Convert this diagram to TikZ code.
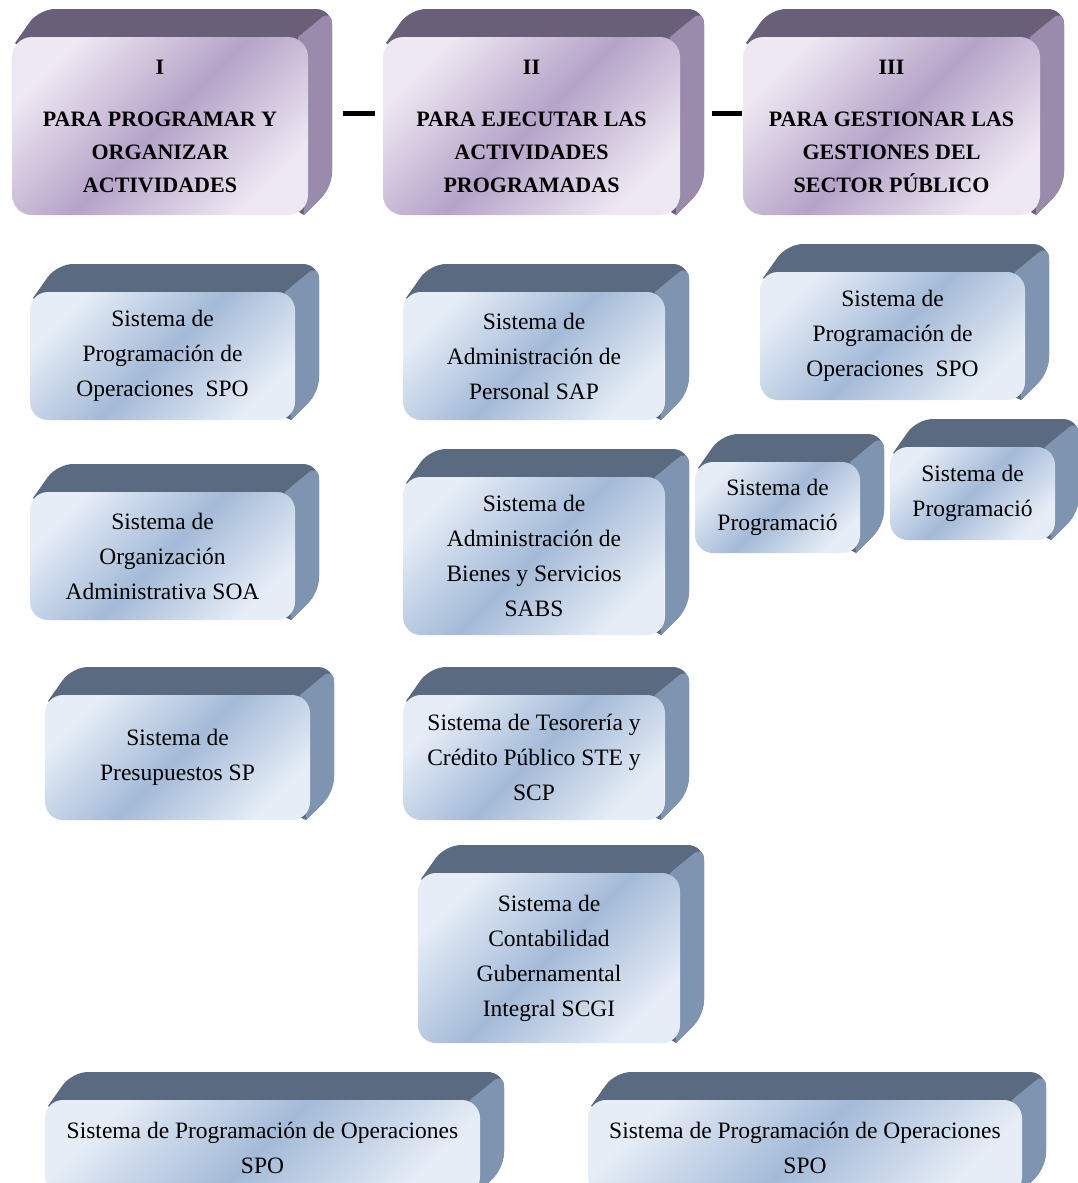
\documentclass[tikz,border=0pt]{standalone}
\usepackage{fontspec}
\setmainfont{Liberation Serif}
\definecolor{bTop}{HTML}{5A6A80}
\definecolor{bSide}{HTML}{7F94B0}
\definecolor{bLight}{HTML}{E6EDF6}
\definecolor{bMid}{HTML}{A4BAD8}
\definecolor{pTop}{HTML}{6A5F78}
\definecolor{pSide}{HTML}{9A8AAC}
\definecolor{pLight}{HTML}{EEE8F2}
\definecolor{pMid}{HTML}{B5A3C8}
\tikzset{
  bluetop/.style={fill=bTop},
  blueside/.style={fill=bSide},
  bluefront/.style={rounded corners=18pt, top color=bLight, bottom color=bLight,
    middle color=bMid, shading angle=45, inner sep=0pt, outer sep=0pt,
    align=center, font=\fontsize{23.5}{35}\selectfont},
  purptop/.style={fill=pTop},
  purpside/.style={fill=pSide},
  purpfront/.style={rounded corners=20pt, top color=pLight, bottom color=pLight,
    middle color=pMid, shading angle=45, inner sep=0pt, outer sep=0pt,
    align=center, font=\bfseries\fontsize{22}{33}\selectfont},
  dashline/.style={line width=5pt, black}
}
\newcommand\cubebox[7]{%
  \fill[#6top] (#4-4,#5) -- (#2+16,#3+16) -- (#2+3,#3+6) [rounded corners=16pt] -- (#2+27,#3-28) -- (#4+24,#3-28) -- (#4+24,#5-28) [sharp corners] -- cycle;
  \fill[#6side] (#4-10,#3) [rounded corners=14pt] -- (#4+24,#3-28) -- (#4+24,#5-28) [sharp corners] -- (#4-4,#5) -- cycle;
  \node[#6front, minimum width=#4-#2, minimum height=#5-#3] (#1) at ({(#2+#4)/2},{(#3+#5)/2}) {#7};
}
\begin{document}
\begin{tikzpicture}[x=1pt,y=-1pt]
\useasboundingbox (0,0) rectangle (1078,1183);
\clip (0,0) rectangle (1078,1183);
% headers
\cubebox{hI}{12}{37}{308}{215}{purp}{I\\[19pt]PARA PROGRAMAR Y\\ORGANIZAR\\ACTIVIDADES}
\cubebox{hII}{383}{37}{680}{215}{purp}{II\\[19pt]PARA EJECUTAR LAS\\ACTIVIDADES\\PROGRAMADAS}
\cubebox{hIII}{743}{37}{1040}{215}{purp}{III\\[19pt]PARA GESTIONAR LAS\\GESTIONES DEL\\SECTOR PÚBLICO}
\draw[dashline] ([shift={(35,-13)}]hI.east) -- ([shift={(-8,-13)}]hII.west);
\draw[dashline] ([shift={(32,-13)}]hII.east) -- ([shift={(-1,-13)}]hIII.west);
% column I
\cubebox{sA}{30}{292}{295}{420}{blue}{Sistema de\\Programación de\\Operaciones\ \ SPO}
\cubebox{sB}{30}{492}{295}{620}{blue}{Sistema de\\Organización\\Administrativa SOA}
\cubebox{sC}{45}{695}{310}{820}{blue}{Sistema de\\Presupuestos SP}
% column II
\cubebox{sD}{403}{292}{665}{420}{blue}{Sistema de\\Administración de\\Personal SAP}
\cubebox{sE}{403}{477}{665}{635}{blue}{Sistema de\\Administración de\\Bienes y Servicios\\SABS}
\cubebox{sF}{403}{695}{665}{820}{blue}{Sistema de Tesorería y\\Crédito Público STE y\\SCP}
\cubebox{sG}{418}{873}{680}{1043}{blue}{Sistema de\\Contabilidad\\Gubernamental\\Integral SCGI}
% column III
\cubebox{sH}{760}{272}{1025}{400}{blue}{Sistema de\\Programación de\\Operaciones\ \ SPO}
\cubebox{sJ}{695}{462}{860}{553}{blue}{Sistema de\\Programació}
\cubebox{sK}{890}{447}{1055}{540}{blue}{Sistema de\\Programació}
% bottom
\cubebox{sL}{45}{1100}{480}{1195}{blue}{Sistema de Programación de Operaciones\\SPO}
\cubebox{sM}{588}{1100}{1022}{1195}{blue}{Sistema de Programación de Operaciones\\SPO}
\end{tikzpicture}
\end{document}
